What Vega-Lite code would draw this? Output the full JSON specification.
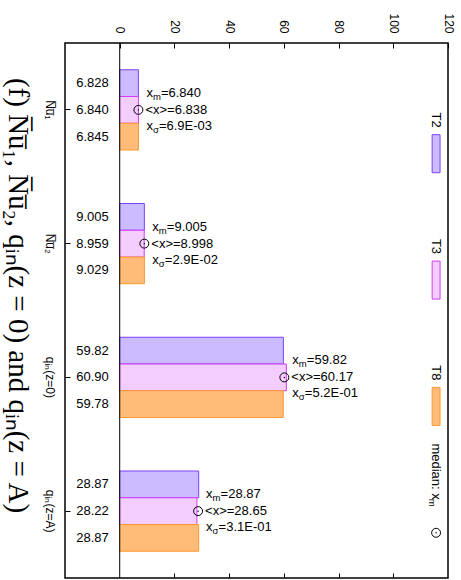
{
  "$schema": "https://vega.github.io/schema/vega-lite/v6.json",
  "width": 383,
  "height": 535,
  "autosize": "none",
  "padding": {"left": 65, "top": 43, "right": 13, "bottom": 2},
  "background": "white",
  "config": {
    "view": {"stroke": "#000", "strokeWidth": 1.5},
    "font": "Liberation Sans",
    "axis": {"grid": false, "domain": false, "labelColor": "#000", "tickColor": "#000", "labelFont": "Liberation Sans"},
    "text": {"font": "Liberation Sans", "color": "#000"}
  },
  "title": {
    "text": "(f)     N̅u̅₁,     N̅u̅₂,     qᵢₙ(z = 0)     and     qᵢₙ(z = A)",
    "orient": "left",
    "angle": 90,
    "anchor": "middle",
    "baseline": "middle",
    "font": "Liberation Serif",
    "fontSize": 29,
    "fontWeight": "normal",
    "color": "#000",
    "offset": -4,
    "dx": -15
  },
  "datasets": {
    "bars": [
      {"cat": "N̅u̅₁", "series": "T2", "value": 6.828, "label": "6.828"},
      {"cat": "N̅u̅₁", "series": "T3", "value": 6.840, "label": "6.840"},
      {"cat": "N̅u̅₁", "series": "T8", "value": 6.845, "label": "6.845"},
      {"cat": "N̅u̅₂", "series": "T2", "value": 9.005, "label": "9.005"},
      {"cat": "N̅u̅₂", "series": "T3", "value": 8.959, "label": "8.959"},
      {"cat": "N̅u̅₂", "series": "T8", "value": 9.029, "label": "9.029"},
      {"cat": "qᵢₙ(z=0)", "series": "T2", "value": 59.82, "label": "59.82"},
      {"cat": "qᵢₙ(z=0)", "series": "T3", "value": 60.90, "label": "60.90"},
      {"cat": "qᵢₙ(z=0)", "series": "T8", "value": 59.78, "label": "59.78"},
      {"cat": "qᵢₙ(z=A)", "series": "T2", "value": 28.87, "label": "28.87"},
      {"cat": "qᵢₙ(z=A)", "series": "T3", "value": 28.22, "label": "28.22"},
      {"cat": "qᵢₙ(z=A)", "series": "T8", "value": 28.87, "label": "28.87"}
    ],
    "stats": [
      {"cat": "N̅u̅₁", "mean": 6.838, "xm": "=6.840", "avg": "<x>=6.838", "sd": "=6.9E-03"},
      {"cat": "N̅u̅₂", "mean": 8.998, "xm": "=9.005", "avg": "<x>=8.998", "sd": "=2.9E-02"},
      {"cat": "qᵢₙ(z=0)", "mean": 60.17, "xm": "=59.82", "avg": "<x>=60.17", "sd": "=5.2E-01"},
      {"cat": "qᵢₙ(z=A)", "mean": 28.65, "xm": "=28.87", "avg": "<x>=28.65", "sd": "=3.1E-01"}
    ],
    "legend": [{"item": "T2"}, {"item": "T3"}, {"item": "T8"}],
    "median": [{"item": "median", "label": "median: x", "sub": "m"}]
  },
  "layer": [
    {
      "data": {"name": "bars"},
      "mark": {"type": "bar", "strokeWidth": 1},
      "encoding": {
        "x": {
          "field": "value", "type": "quantitative", "title": null,
          "scale": {"domain": [-20, 120], "nice": false, "zero": false},
          "axis": {"orient": "top", "values": [0, 20, 40, 60, 80, 100, 120], "labelAngle": 90, "labelAlign": "right", "labelBaseline": "middle", "tickSize": -5, "labelPadding": 15, "labelFontSize": 12, "title": null}
        },
        "y": {
          "field": "cat", "type": "nominal", "title": null,
          "sort": ["N̅u̅₁", "N̅u̅₂", "qᵢₙ(z=0)", "qᵢₙ(z=A)"],
          "scale": {"type": "band", "paddingInner": 0, "paddingOuter": 0},
          "axis": {"orient": "left", "labelAngle": 90, "labelAlign": "center", "labelBaseline": "middle", "tickSize": -5, "labelPadding": 21, "labelFontSize": 12, "title": null}
        },
        "yOffset": {"field": "series", "type": "nominal", "scale": {"domain": ["T2", "T3", "T8"], "paddingInner": 0, "paddingOuter": 1.37}},
        "fill": {"field": "series", "type": "nominal", "scale": {"domain": ["T2", "T3", "T8"], "range": ["#cbbcff", "#f3cdfb", "#ffbb78"]}, "legend": null},
        "stroke": {"field": "series", "type": "nominal", "scale": {"domain": ["T2", "T3", "T8"], "range": ["#7b3fff", "#d23cf5", "#ff9a33"]}, "legend": null}
      }
    },
    {
      "data": {"values": [{"zero": 0}]},
      "mark": {"type": "rule", "color": "#000", "strokeWidth": 1},
      "encoding": {"x": {"field": "zero", "type": "quantitative", "axis": null}}
    },
    {
      "data": {"name": "bars"},
      "mark": {"type": "text", "align": "right", "baseline": "middle", "dx": -11, "fontSize": 13},
      "encoding": {
        "x": {"datum": 0, "type": "quantitative", "axis": null},
        "y": {"field": "cat", "type": "nominal", "sort": ["N̅u̅₁", "N̅u̅₂", "qᵢₙ(z=0)", "qᵢₙ(z=A)"], "scale": {"type": "band", "paddingInner": 0, "paddingOuter": 0}, "axis": null},
        "yOffset": {"field": "series", "type": "nominal"},
        "text": {"field": "label"}
      }
    },
    {
      "data": {"name": "stats"},
      "mark": {"type": "point", "shape": "circle", "size": 80, "filled": false, "stroke": "#000", "strokeWidth": 1, "opacity": 1},
      "encoding": {
        "x": {"field": "mean", "type": "quantitative", "axis": null},
        "y": {"field": "cat", "type": "nominal", "sort": ["N̅u̅₁", "N̅u̅₂", "qᵢₙ(z=0)", "qᵢₙ(z=A)"], "scale": {"type": "band", "paddingInner": 0, "paddingOuter": 0}, "axis": null}
      }
    },
    {
      "data": {"name": "stats"},
      "mark": {"type": "point", "shape": "circle", "size": 2, "filled": true, "color": "#000", "opacity": 1},
      "encoding": {
        "x": {"field": "mean", "type": "quantitative", "axis": null},
        "y": {"field": "cat", "type": "nominal", "sort": ["N̅u̅₁", "N̅u̅₂", "qᵢₙ(z=0)", "qᵢₙ(z=A)"], "scale": {"type": "band", "paddingInner": 0, "paddingOuter": 0}, "axis": null}
      }
    },
    {
      "data": {"name": "stats"},
      "mark": {"type": "text", "align": "left", "baseline": "middle", "dx": 8, "dy": -17, "fontSize": 13},
      "encoding": {
        "x": {"field": "mean", "type": "quantitative", "axis": null},
        "y": {"field": "cat", "type": "nominal", "sort": ["N̅u̅₁", "N̅u̅₂", "qᵢₙ(z=0)", "qᵢₙ(z=A)"], "scale": {"type": "band", "paddingInner": 0, "paddingOuter": 0}, "axis": null},
        "text": {"value": "x"}
      }
    },
    {
      "data": {"name": "stats"},
      "mark": {"type": "text", "align": "left", "baseline": "middle", "dx": 14.5, "dy": -13, "fontSize": 9.5},
      "encoding": {
        "x": {"field": "mean", "type": "quantitative", "axis": null},
        "y": {"field": "cat", "type": "nominal", "sort": ["N̅u̅₁", "N̅u̅₂", "qᵢₙ(z=0)", "qᵢₙ(z=A)"], "scale": {"type": "band", "paddingInner": 0, "paddingOuter": 0}, "axis": null},
        "text": {"value": "m"}
      }
    },
    {
      "data": {"name": "stats"},
      "mark": {"type": "text", "align": "left", "baseline": "middle", "dx": 22.5, "dy": -17, "fontSize": 13},
      "encoding": {
        "x": {"field": "mean", "type": "quantitative", "axis": null},
        "y": {"field": "cat", "type": "nominal", "sort": ["N̅u̅₁", "N̅u̅₂", "qᵢₙ(z=0)", "qᵢₙ(z=A)"], "scale": {"type": "band", "paddingInner": 0, "paddingOuter": 0}, "axis": null},
        "text": {"field": "xm"}
      }
    },
    {
      "data": {"name": "stats"},
      "mark": {"type": "text", "align": "left", "baseline": "middle", "dx": 7, "dy": 0, "fontSize": 13},
      "encoding": {
        "x": {"field": "mean", "type": "quantitative", "axis": null},
        "y": {"field": "cat", "type": "nominal", "sort": ["N̅u̅₁", "N̅u̅₂", "qᵢₙ(z=0)", "qᵢₙ(z=A)"], "scale": {"type": "band", "paddingInner": 0, "paddingOuter": 0}, "axis": null},
        "text": {"field": "avg"}
      }
    },
    {
      "data": {"name": "stats"},
      "mark": {"type": "text", "align": "left", "baseline": "middle", "dx": 8, "dy": 16, "fontSize": 13},
      "encoding": {
        "x": {"field": "mean", "type": "quantitative", "axis": null},
        "y": {"field": "cat", "type": "nominal", "sort": ["N̅u̅₁", "N̅u̅₂", "qᵢₙ(z=0)", "qᵢₙ(z=A)"], "scale": {"type": "band", "paddingInner": 0, "paddingOuter": 0}, "axis": null},
        "text": {"value": "x"}
      }
    },
    {
      "data": {"name": "stats"},
      "mark": {"type": "text", "align": "left", "baseline": "middle", "dx": 14.5, "dy": 20, "fontSize": 9.5},
      "encoding": {
        "x": {"field": "mean", "type": "quantitative", "axis": null},
        "y": {"field": "cat", "type": "nominal", "sort": ["N̅u̅₁", "N̅u̅₂", "qᵢₙ(z=0)", "qᵢₙ(z=A)"], "scale": {"type": "band", "paddingInner": 0, "paddingOuter": 0}, "axis": null},
        "text": {"value": "σ"}
      }
    },
    {
      "data": {"name": "stats"},
      "mark": {"type": "text", "align": "left", "baseline": "middle", "dx": 20.5, "dy": 16, "fontSize": 13},
      "encoding": {
        "x": {"field": "mean", "type": "quantitative", "axis": null},
        "y": {"field": "cat", "type": "nominal", "sort": ["N̅u̅₁", "N̅u̅₂", "qᵢₙ(z=0)", "qᵢₙ(z=A)"], "scale": {"type": "band", "paddingInner": 0, "paddingOuter": 0}, "axis": null},
        "text": {"field": "sd"}
      }
    },
    {
      "data": {"name": "legend"},
      "mark": {"type": "bar", "size": 38, "strokeWidth": 1},
      "encoding": {
        "x": {"datum": 114.2, "type": "quantitative", "axis": {"orient": "bottom", "values": [20, 40, 60, 80, 100], "labels": false, "tickSize": -5, "title": null}},
        "x2": {"datum": 117.1},
        "y": {"field": "item", "type": "nominal", "scale": {"type": "point", "domain": ["T2", "T3", "T8", "median"], "padding": 0.617, "align": 0.71}, "axis": null},
        "fill": {"field": "item", "type": "nominal", "legend": null},
        "stroke": {"field": "item", "type": "nominal", "legend": null}
      }
    },
    {
      "data": {"name": "legend"},
      "mark": {"type": "text", "angle": 90, "align": "right", "baseline": "middle", "dx": -26, "fontSize": 13},
      "encoding": {
        "x": {"datum": 115.65, "type": "quantitative", "axis": null},
        "y": {"field": "item", "type": "nominal", "scale": {"type": "point", "domain": ["T2", "T3", "T8", "median"], "padding": 0.617, "align": 0.71}, "axis": null},
        "text": {"field": "item"}
      }
    },
    {
      "data": {"name": "median"},
      "mark": {"type": "point", "shape": "circle", "size": 80, "filled": false, "stroke": "#000", "strokeWidth": 1, "opacity": 1},
      "encoding": {
        "x": {"datum": 115.65, "type": "quantitative", "axis": null},
        "y": {"field": "item", "type": "nominal", "scale": {"type": "point", "domain": ["T2", "T3", "T8", "median"], "padding": 0.617, "align": 0.71}, "axis": null}
      }
    },
    {
      "data": {"name": "median"},
      "mark": {"type": "point", "shape": "circle", "size": 2, "filled": true, "color": "#000", "opacity": 1},
      "encoding": {
        "x": {"datum": 115.65, "type": "quantitative", "axis": null},
        "y": {"field": "item", "type": "nominal", "scale": {"type": "point", "domain": ["T2", "T3", "T8", "median"], "padding": 0.617, "align": 0.71}, "axis": null}
      }
    },
    {
      "data": {"name": "median"},
      "mark": {"type": "text", "angle": 90, "align": "right", "baseline": "middle", "dx": -33, "fontSize": 13},
      "encoding": {
        "x": {"datum": 115.65, "type": "quantitative", "axis": null},
        "y": {"field": "item", "type": "nominal", "scale": {"type": "point", "domain": ["T2", "T3", "T8", "median"], "padding": 0.617, "align": 0.71}, "axis": null},
        "text": {"field": "label"}
      }
    },
    {
      "data": {"name": "median"},
      "mark": {"type": "text", "angle": 90, "align": "right", "baseline": "middle", "dx": -26, "dy": 4, "fontSize": 9.5},
      "encoding": {
        "x": {"datum": 115.65, "type": "quantitative", "axis": null},
        "y": {"field": "item", "type": "nominal", "scale": {"type": "point", "domain": ["T2", "T3", "T8", "median"], "padding": 0.617, "align": 0.71}, "axis": null},
        "text": {"field": "sub"}
      }
    }
  ],
  "resolve": {"scale": {"y": "independent"}, "axis": {"x": "independent"}}
}
